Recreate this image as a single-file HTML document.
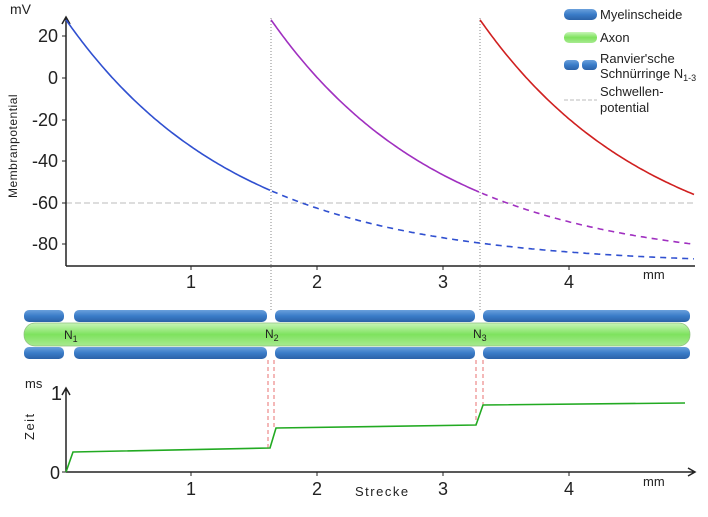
<!DOCTYPE html><html><head><style>body{margin:0;background:#fff}svg{font-family:"Liberation Sans",sans-serif}</style></head><body>
<svg width="708" height="512" viewBox="0 0 708 512" xmlns="http://www.w3.org/2000/svg">
<defs>
<linearGradient id="my" x1="0" y1="0" x2="0" y2="1"><stop offset="0" stop-color="#6aa0dc"/><stop offset="0.5" stop-color="#3a7cc8"/><stop offset="1" stop-color="#2b62a8"/></linearGradient>
<linearGradient id="ax" x1="0" y1="0" x2="0" y2="1"><stop offset="0" stop-color="#c8f5b8"/><stop offset="0.5" stop-color="#7ee25e"/><stop offset="1" stop-color="#a8ea90"/></linearGradient>
</defs>
<!-- top chart -->
<line x1="66" y1="203" x2="695" y2="203" stroke="#bbb" stroke-dasharray="6,3"/>
<line x1="271" y1="18" x2="271" y2="310" stroke="#888" stroke-dasharray="1,2"/>
<line x1="480" y1="18" x2="480" y2="310" stroke="#888" stroke-dasharray="1,2"/>
<path d="M66 266V17M62 24L66 17L70 24M66 266H695" stroke="#222" stroke-width="1.5" fill="none"/>
<g stroke="#222"><line x1="62" y1="36" x2="66" y2="36"/><line x1="62" y1="78" x2="66" y2="78"/><line x1="62" y1="120" x2="66" y2="120"/><line x1="62" y1="161" x2="66" y2="161"/><line x1="62" y1="203" x2="66" y2="203"/><line x1="62" y1="244" x2="66" y2="244"/>
<line x1="191" y1="266" x2="191" y2="270"/><line x1="317" y1="266" x2="317" y2="270"/><line x1="443" y1="266" x2="443" y2="270"/><line x1="569" y1="266" x2="569" y2="270"/></g>
<g font-size="18" fill="#222" text-anchor="end"><text x="58" y="42">20</text><text x="58" y="84">0</text><text x="58" y="126">-20</text><text x="58" y="167">-40</text><text x="58" y="209">-60</text><text x="58" y="250">-80</text></g>
<g font-size="18" fill="#222" text-anchor="middle"><text x="191" y="288">1</text><text x="317" y="288">2</text><text x="443" y="288">3</text><text x="569" y="288">4</text></g>
<text x="10" y="14" font-size="14" fill="#222">mV</text>
<text x="643" y="279" font-size="13" fill="#222">mm</text>
<text transform="translate(17,198) rotate(-90)" font-size="12" fill="#222" letter-spacing="0.5">Membranpotential</text>
<g id="curves" fill="none" stroke-width="1.6"></g>
<!-- legend -->
<rect x="564" y="9" width="33" height="11" rx="5" fill="url(#my)"/><text x="600" y="19" font-size="13" fill="#222">Myelinscheide</text>
<rect x="564" y="32" width="33" height="11" rx="5" fill="url(#ax)"/><text x="600" y="42" font-size="13" fill="#222">Axon</text>
<rect x="564" y="60" width="15" height="10" rx="4" fill="url(#my)"/><rect x="582" y="60" width="15" height="10" rx="4" fill="url(#my)"/>
<text x="600" y="63" font-size="13" fill="#222">Ranvier'sche</text><text x="600" y="78" font-size="13" fill="#222">Schnürringe N<tspan font-size="9" dy="3">1-3</tspan></text>
<line x1="564" y1="100" x2="597" y2="100" stroke="#bbb" stroke-dasharray="4,2"/>
<text x="600" y="96" font-size="13" fill="#222">Schwellen-</text><text x="600" y="112" font-size="13" fill="#222">potential</text>
<!-- axon -->
<g fill="url(#my)"><rect x="24" y="310" width="40" height="12" rx="5"/><rect x="74" y="310" width="193" height="12" rx="5"/><rect x="275" y="310" width="200" height="12" rx="5"/><rect x="483" y="310" width="207" height="12" rx="5"/>
<rect x="24" y="347" width="40" height="12" rx="5"/><rect x="74" y="347" width="193" height="12" rx="5"/><rect x="275" y="347" width="200" height="12" rx="5"/><rect x="483" y="347" width="207" height="12" rx="5"/></g>
<rect x="24" y="323" width="666" height="23" rx="11" fill="url(#ax)" stroke="#8fc080" stroke-width="0.7"/>
<g font-size="12" fill="#222"><text x="64" y="339">N<tspan font-size="9" dy="3">1</tspan></text><text x="265" y="338">N<tspan font-size="9" dy="3">2</tspan></text><text x="473" y="338">N<tspan font-size="9" dy="3">3</tspan></text></g>
<!-- bottom chart -->
<g stroke="#e87070" stroke-dasharray="4,3"><line x1="268" y1="360" x2="268" y2="448"/><line x1="274" y1="360" x2="274" y2="428"/><line x1="476" y1="360" x2="476" y2="425"/><line x1="483" y1="360" x2="483" y2="405"/></g>
<path d="M66 472V388M62 395L66 388L70 395M66 472H695M688 468L695 472L688 476" stroke="#222" stroke-width="1.5" fill="none"/>
<g stroke="#222"><line x1="191" y1="472" x2="191" y2="476"/><line x1="317" y1="472" x2="317" y2="476"/><line x1="443" y1="472" x2="443" y2="476"/><line x1="569" y1="472" x2="569" y2="476"/><line x1="62" y1="472" x2="66" y2="472"/></g>
<polyline points="66,472 73,452 270,448 276,428 476,425 483,405 685,403" fill="none" stroke="#22aa22" stroke-width="1.6"/>
<text x="62" y="400" font-size="20" fill="#222" text-anchor="end">1</text>
<text x="60" y="479" font-size="18" fill="#222" text-anchor="end">0</text>
<text x="25" y="388" font-size="13" fill="#222">ms</text>
<text transform="translate(34,440) rotate(-90)" font-size="13" fill="#222" letter-spacing="1.5">Zeit</text>
<g font-size="18" fill="#222" text-anchor="middle"><text x="191" y="495">1</text><text x="317" y="495">2</text><text x="443" y="495">3</text><text x="569" y="495">4</text></g>
<text x="355" y="496" font-size="13" fill="#222" letter-spacing="1.5">Strecke</text>
<text x="643" y="486" font-size="13" fill="#222">mm</text>
<script>
(function(){var g=document.getElementById('curves'),ns='http://www.w3.org/2000/svg';
function V(dx){return 78-(-90+118*Math.exp(-dx/172))*2.08;}
function seg(x0,xa,xb,col,dash){var d='';for(var x=xa;x<=xb;x+=2){d+=(x==xa?'M':'L')+x+' '+V(x-x0).toFixed(1);}var p=document.createElementNS(ns,'path');p.setAttribute('d',d);p.setAttribute('stroke',col);if(dash)p.setAttribute('stroke-dasharray','6,5');g.appendChild(p);}
seg(66,66,270,'#3050d0');seg(66,272,694,'#3050d0',1);
seg(271,271,480,'#a030c0');seg(271,482,694,'#a030c0',1);
seg(480,480,694,'#d02020');})();
</script>
</svg></body></html>
